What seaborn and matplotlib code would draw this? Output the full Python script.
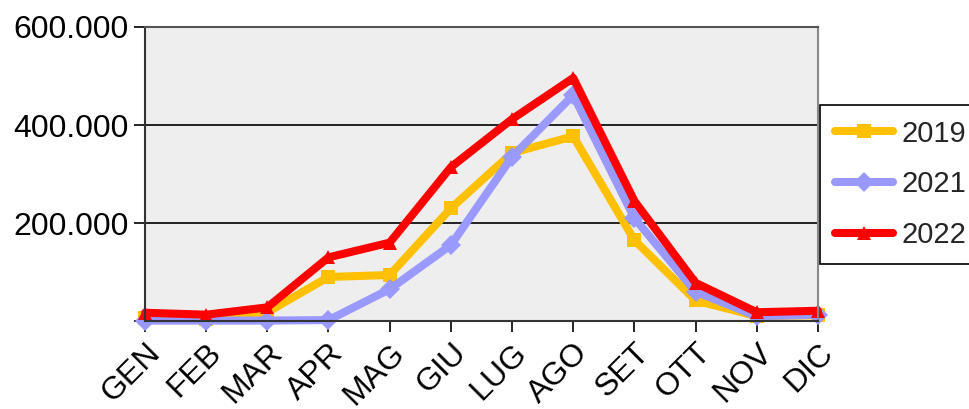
import pandas as pd
import matplotlib.pyplot as plt
import seaborn as sns
from matplotlib.ticker import FuncFormatter

mesi = ["GEN", "FEB", "MAR", "APR", "MAG", "GIU", "LUG", "AGO", "SET", "OTT", "NOV", "DIC"]
v2019 = [6000, 5000, 18000, 90000, 94000, 230000, 343000, 377000, 165000, 42000, 10000, 12000]
v2021 = [1000, 1000, 1000, 2000, 65000, 155000, 335000, 461000, 210000, 60000, 10000, 13000]
v2022 = [17000, 13000, 28000, 130000, 160000, 314000, 412000, 496000, 245000, 78000, 18000, 21000]
anni = ["2019", "2021", "2022"]

df = pd.DataFrame({
    "mese": mesi * 3,
    "valore": v2019 + v2021 + v2022,
    "anno": [a for a in anni for _ in mesi],
})
df["pos"] = df["mese"].map({m: i for i, m in enumerate(mesi)})

sns.set_style("white")
plt.rcParams["font.family"] = ["Liberation Sans", "DejaVu Sans"]

fig = plt.figure(figsize=(9.69, 4.09), dpi=100)
ax = fig.add_axes([0.1496, 0.215, 0.6945, 0.719])
ax.set_facecolor("#EEEEEE")

palette = {"2019": "#FFC000", "2021": "#9999FF", "2022": "#FF0000"}
markers = {"2019": "s", "2021": "D", "2022": "^"}
sns.lineplot(data=df, x="pos", y="valore", hue="anno", style="anno",
             palette=palette, markers=markers, dashes=False,
             linewidth=5.8, markersize=10.5, markeredgewidth=0,
             ax=ax, clip_on=False, legend="full")

ax.set_xlim(0, 11)
ax.set_ylim(0, 600000)
ax.set_xticks(range(12))
ax.set_xticklabels(mesi, rotation=45, ha="right", rotation_mode="anchor")
ax.set_yticks([0, 200000, 400000, 600000])
ax.yaxis.set_major_formatter(FuncFormatter(
    lambda v, p: "" if v == 0 else f"{int(v):,}".replace(",", ".")))
ax.tick_params(axis="both", labelsize=23, length=8, width=1.2, colors="black",
               direction="out", left=True, bottom=True, pad=4)
ax.set_xlabel("")
ax.set_ylabel("")

for y in [200000, 400000]:
    ax.axhline(y, color="black", linewidth=1.2, zorder=0.5)

ax.spines["left"].set_color("#333333")
ax.spines["bottom"].set_color("#333333")
ax.spines["top"].set_color("#555555")
ax.spines["right"].set_color("#888888")
for s in ax.spines.values():
    s.set_linewidth(1.5)

handles, labels = ax.get_legend_handles_labels()
ax.get_legend().remove()
leg = fig.legend(handles, labels, loc="upper left",
                 bbox_to_anchor=(820 / 969, 1 - 105 / 409), borderaxespad=0,
                 fontsize=21, frameon=True, fancybox=False,
                 edgecolor="black", framealpha=1, handlelength=2.0,
                 handletextpad=0.3, labelspacing=0.78, borderpad=0.5)
leg.get_frame().set_linewidth(1.2)

fig.savefig("out.png", dpi=100)
plt.close(fig)
